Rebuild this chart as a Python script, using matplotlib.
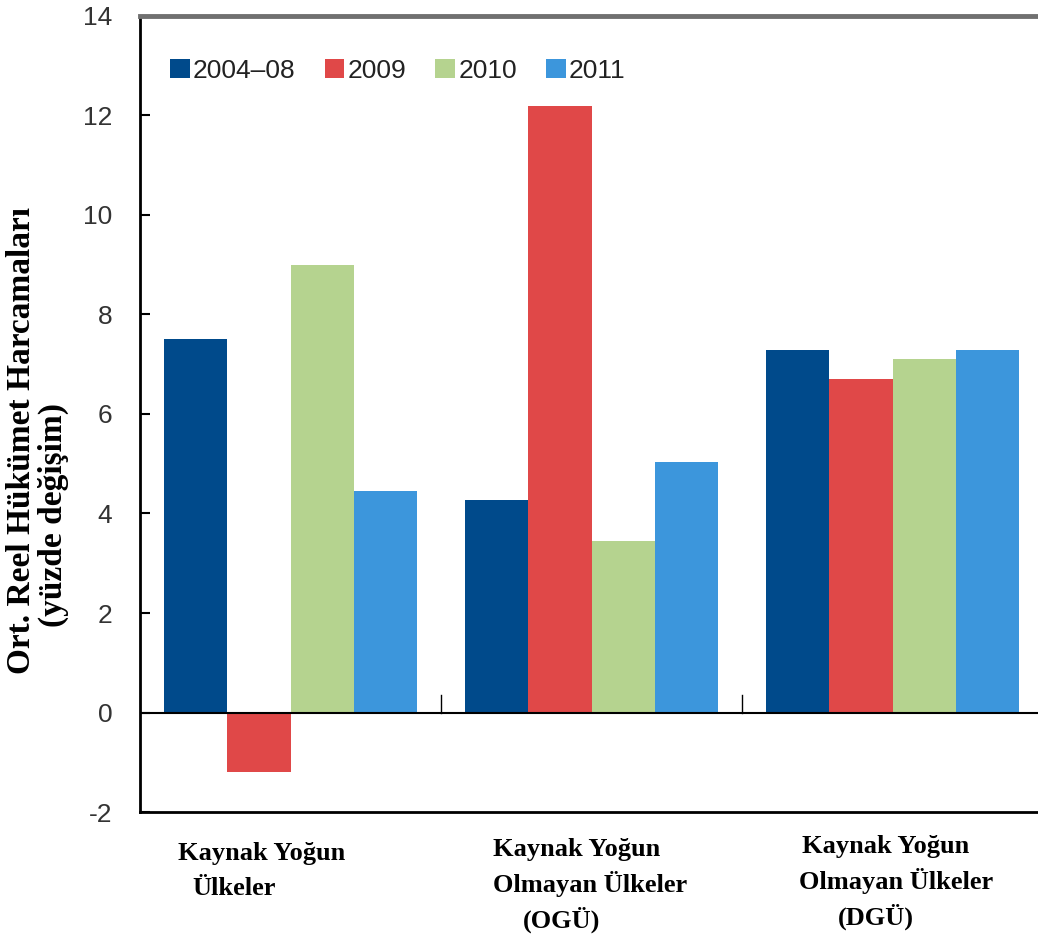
import numpy as np
import matplotlib.pyplot as plt

# veri
gruplar = [["Kaynak Yoğun", "Ülkeler"],
           ["Kaynak Yoğun", "Olmayan Ülkeler", "(OGÜ)"],
           ["Kaynak Yoğun", "Olmayan Ülkeler", "(DGÜ)"]]
seriler = ["2004–08", "2009", "2010", "2011"]
v_2004_08 = [7.5, 4.28, 7.28]
v_2009 = [-1.2, 12.2, 6.7]
v_2010 = [9.0, 3.45, 7.1]
v_2011 = [4.45, 5.03, 7.28]
y_ticks = [-2, 0, 2, 4, 6, 8, 10, 12, 14]

renkler = ["#004a8b", "#e04848", "#b5d38f", "#3c96dc"]
degerler = [v_2004_08, v_2009, v_2010, v_2011]

W, H = 1038, 938
fig = plt.figure(figsize=(W / 100, H / 100), dpi=100)
ax = fig.add_axes([0.135, 0.1343, 0.87, 0.8487])

x = np.arange(len(gruplar))
w = 0.21
for i, (ad, vals, c) in enumerate(zip(seriler, degerler, renkler)):
    ax.bar(x + (i - 1.5) * w, vals, width=w, color=c, label=ad)

ax.set_xlim(-0.5, 2.5)
ax.set_ylim(-2, 14)
ax.set_yticks(y_ticks)
ax.set_yticklabels([str(t) for t in y_ticks], family="Liberation Sans", fontsize=19, color="#333333")
ax.tick_params(axis="y", direction="in", length=7, width=1.5, pad=20)

# kategori ayırıcı tikler sıfır çizgisinde
ax.axhline(0, color="black", lw=1.5, zorder=3)
for s in [0.5, 1.5]:
    ax.plot([s, s], [0, 0.35], color="black", lw=1, zorder=3)
ax.set_xticks([])

ax.spines["right"].set_visible(False)
ax.spines["top"].set_color("#707070")
ax.spines["top"].set_linewidth(3.5)
ax.spines["left"].set_linewidth(2)
ax.spines["bottom"].set_linewidth(2)

# grup etiketleri (piksel konumları: sol x, taban çizgisi y)
satir_x = [[178, 192], [493, 493, 523], [802, 799, 838]]
satir_y = [[860, 895], [856, 892, 928], [853, 889, 925]]
for satirlar, xs, ys in zip(gruplar, satir_x, satir_y):
    for s, px, py in zip(satirlar, xs, ys):
        fig.text(px / W, 1 - py / H, s, ha="left", va="baseline",
                 family="Liberation Serif", fontweight="bold", fontsize=19)

# y ekseni başlığı, iki satır
fig.text(22 / W, 1 - 441 / H, "Ort. Reel Hükümet Harcamaları", rotation=90,
         ha="center", va="center", family="Liberation Serif", fontweight="bold", fontsize=24)
fig.text(53 / W, 1 - 515 / H, "(yüzde değişim)", rotation=90,
         ha="center", va="center", family="Liberation Serif", fontweight="bold", fontsize=24)

leg = ax.legend(loc="center left", bbox_to_anchor=(0.033, 0.931), ncol=4, frameon=False,
                borderpad=0, borderaxespad=0,
                prop={"family": "Liberation Sans", "size": 19}, handlelength=0.75,
                handleheight=0.75, handletextpad=0.12, columnspacing=1.1)
for t in leg.get_texts():
    t.set_color("#222222")

fig.savefig("out.png", dpi=100)
